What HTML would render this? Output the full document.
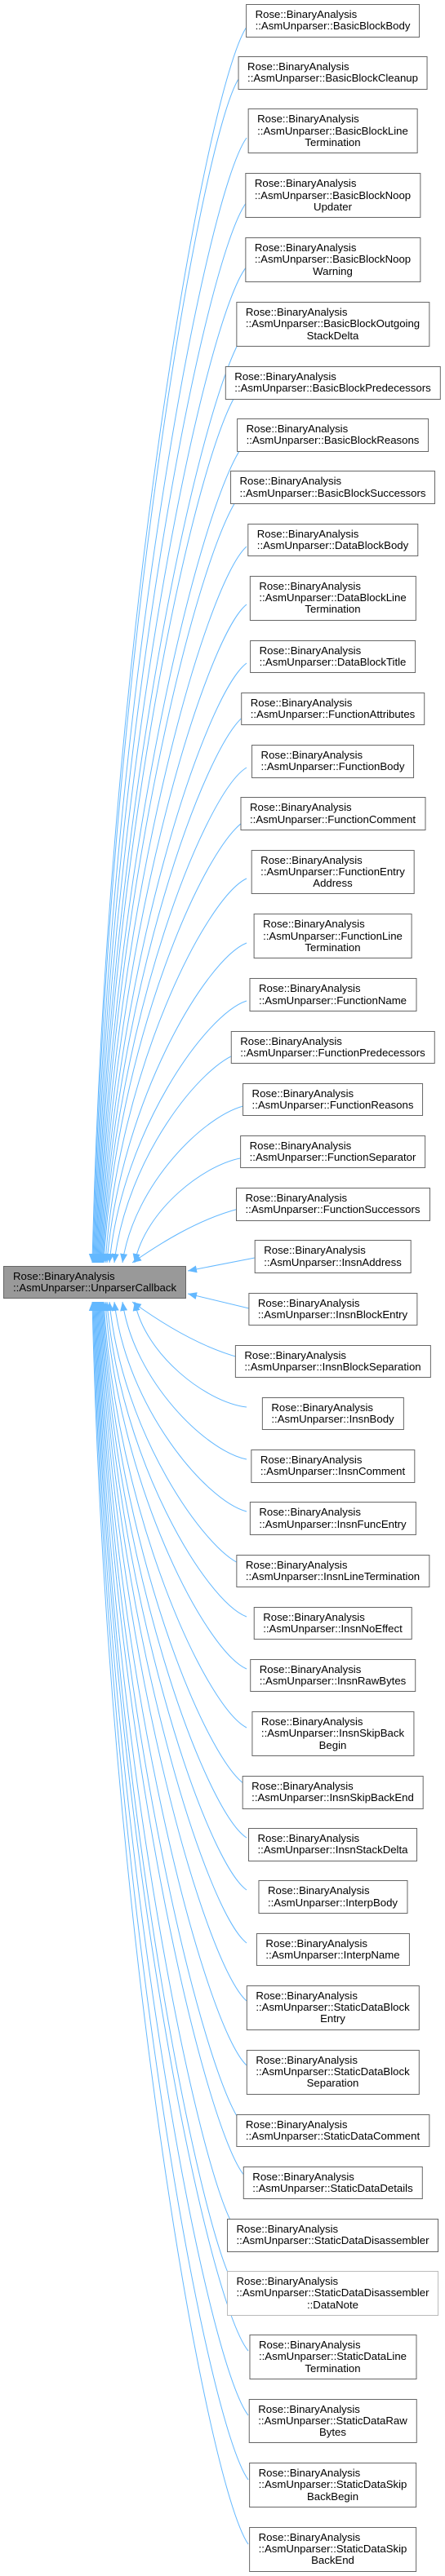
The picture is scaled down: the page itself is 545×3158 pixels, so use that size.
<!DOCTYPE html>
<html><head><meta charset="utf-8"><style>
html,body{margin:0;padding:0;background:#fff;}
body{width:545px;height:3158px;position:relative;overflow:hidden;font-family:"Liberation Sans",Arial,sans-serif;}
.n{position:absolute;left:407.5px;transform:translateX(-50%);white-space:nowrap;font-size:13.2px;line-height:14.3px;padding:5px 11px;border:1px solid #666;background:#fff;color:#000;text-align:left;}
.n .c{text-align:center;}
.lt{border-color:#bbb;}
.root{position:absolute;left:4px;top:1552px;width:200px;height:28px;padding:5px 11px;border:1px solid #666;background:#999;font-size:13.2px;line-height:14.3px;white-space:nowrap;}
svg{position:absolute;left:0;top:0;}
</style></head><body>
<svg width="545" height="3158" viewBox="0 0 545 3158">
<defs><marker id="a" markerUnits="userSpaceOnUse" markerWidth="12" markerHeight="9" refX="11" refY="4.5" orient="auto"><path d="M0,0 L11,4.5 L0,9 z" fill="#63b8ff"/></marker></defs>
<g fill="none" stroke="#63b8ff" stroke-width="1" marker-end="url(#a)">
<path d="M302,33 C252,108.8 130.7,790.5 113,1548"/>
<path d="M292,97 C247,169.6 131.6,822.5 114,1548"/>
<path d="M302,169 C252,238 132.5,858.5 115,1548"/>
<path d="M302,248 C252,313 133.4,898 116,1548"/>
<path d="M302,327 C252,388 134.3,937.5 117,1548"/>
<path d="M302,405 C252,462 135.2,976.5 118,1548"/>
<path d="M294,477 C247,531 136.1,1012.5 119,1548"/>
<path d="M302,541 C252,591 137,1044.5 120,1548"/>
<path d="M296,605 C250,652 137.9,1076.5 121,1548"/>
<path d="M302,670 C252,714 138.8,1109 122,1548"/>
<path d="M302,741 C252,781 139.7,1144.5 123,1548"/>
<path d="M302,813 C252,850 140.6,1180.5 124,1548"/>
<path d="M300,877 C252,911 141.5,1212.5 125,1548"/>
<path d="M302,941 C252,971 142.4,1244.5 126,1548"/>
<path d="M302,1005 C252,1032 143.3,1276.5 127,1548"/>
<path d="M302,1077 C252,1101 145.1,1312.5 129,1548"/>
<path d="M302,1156 C252,1176 146.9,1352 131,1548"/>
<path d="M302,1227 C252,1243 149.6,1387.5 134,1548"/>
<path d="M293,1291 C247,1304 155,1419.5 140,1548"/>
<path d="M302,1355 C252,1365 164,1451.5 150,1548"/>
<path d="M300,1419 C252,1425 177.5,1483.5 165,1548"/>
<path d="M292,1482 C242,1495 195,1525 162,1548"/>
<path d="M312,1542 L230,1558"/>
<path d="M305,1604 L230,1586"/>
<path d="M292,1664 C242,1650 195,1620 162,1596"/>
<path d="M302,1725 C252,1719 177.5,1660.5 165,1596"/>
<path d="M302,1789 C252,1779 164,1692.5 150,1596"/>
<path d="M302,1853 C252,1840 155,1724.5 140,1596"/>
<path d="M296,1918 C252,1902 149.6,1757 134,1596"/>
<path d="M302,1982 C252,1963 146.9,1789 131,1596"/>
<path d="M302,2046 C252,2024 145.1,1821 129,1596"/>
<path d="M302,2118 C252,2092 143.3,1857 127,1596"/>
<path d="M302,2189 C252,2159 142.4,1892.5 126,1596"/>
<path d="M302,2253 C252,2220 141.5,1924.5 125,1596"/>
<path d="M302,2317 C252,2281 140.6,1956.5 124,1596"/>
<path d="M302,2382 C252,2343 139.7,1989 123,1596"/>
<path d="M302,2453 C252,2410 138.8,2024.5 122,1596"/>
<path d="M302,2532 C252,2485 137.9,2064 121,1596"/>
<path d="M297,2604 C252,2554 137,2100 120,1596"/>
<path d="M300,2668 C252,2614 136.1,2132 119,1596"/>
<path d="M288,2732 C247,2675 135.2,2164 118,1596"/>
<path d="M288,2804 C247,2744 134.3,2200 117,1596"/>
<path d="M304,2882 C252,2818 133.4,2239 116,1596"/>
<path d="M304,2961 C252,2893 132.5,2278.5 115,1596"/>
<path d="M304,3040 C252,2968 131.6,2318 114,1596"/>
<path d="M304,3119 C252,3043 130.7,2357.5 113,1596"/>
</g>
</svg>
<div class="root">Rose::BinaryAnalysis<br>::AsmUnparser::UnparserCallback</div>
<div class="n" style="top:5px">Rose::BinaryAnalysis<br>::AsmUnparser::BasicBlockBody</div>
<div class="n" style="top:69.2px">Rose::BinaryAnalysis<br>::AsmUnparser::BasicBlockCleanup</div>
<div class="n" style="top:133.4px">Rose::BinaryAnalysis<br>::AsmUnparser::BasicBlockLine<div class="c">Termination</div></div>
<div class="n" style="top:212.3px">Rose::BinaryAnalysis<br>::AsmUnparser::BasicBlockNoop<div class="c">Updater</div></div>
<div class="n" style="top:291.2px">Rose::BinaryAnalysis<br>::AsmUnparser::BasicBlockNoop<div class="c">Warning</div></div>
<div class="n" style="top:370.1px">Rose::BinaryAnalysis<br>::AsmUnparser::BasicBlockOutgoing<div class="c">StackDelta</div></div>
<div class="n" style="top:449px">Rose::BinaryAnalysis<br>::AsmUnparser::BasicBlockPredecessors</div>
<div class="n" style="top:513.2px">Rose::BinaryAnalysis<br>::AsmUnparser::BasicBlockReasons</div>
<div class="n" style="top:577.4px">Rose::BinaryAnalysis<br>::AsmUnparser::BasicBlockSuccessors</div>
<div class="n" style="top:641.6px">Rose::BinaryAnalysis<br>::AsmUnparser::DataBlockBody</div>
<div class="n" style="top:705.8px">Rose::BinaryAnalysis<br>::AsmUnparser::DataBlockLine<div class="c">Termination</div></div>
<div class="n" style="top:784.7px">Rose::BinaryAnalysis<br>::AsmUnparser::DataBlockTitle</div>
<div class="n" style="top:848.9px">Rose::BinaryAnalysis<br>::AsmUnparser::FunctionAttributes</div>
<div class="n" style="top:913.1px">Rose::BinaryAnalysis<br>::AsmUnparser::FunctionBody</div>
<div class="n" style="top:977.3px">Rose::BinaryAnalysis<br>::AsmUnparser::FunctionComment</div>
<div class="n" style="top:1041.5px">Rose::BinaryAnalysis<br>::AsmUnparser::FunctionEntry<div class="c">Address</div></div>
<div class="n" style="top:1120.4px">Rose::BinaryAnalysis<br>::AsmUnparser::FunctionLine<div class="c">Termination</div></div>
<div class="n" style="top:1199.3px">Rose::BinaryAnalysis<br>::AsmUnparser::FunctionName</div>
<div class="n" style="top:1263.5px">Rose::BinaryAnalysis<br>::AsmUnparser::FunctionPredecessors</div>
<div class="n" style="top:1327.7px">Rose::BinaryAnalysis<br>::AsmUnparser::FunctionReasons</div>
<div class="n" style="top:1391.9px">Rose::BinaryAnalysis<br>::AsmUnparser::FunctionSeparator</div>
<div class="n" style="top:1456.1px">Rose::BinaryAnalysis<br>::AsmUnparser::FunctionSuccessors</div>
<div class="n" style="top:1520.3px">Rose::BinaryAnalysis<br>::AsmUnparser::InsnAddress</div>
<div class="n" style="top:1584.5px">Rose::BinaryAnalysis<br>::AsmUnparser::InsnBlockEntry</div>
<div class="n" style="top:1648.7px">Rose::BinaryAnalysis<br>::AsmUnparser::InsnBlockSeparation</div>
<div class="n" style="top:1712.9px">Rose::BinaryAnalysis<br>::AsmUnparser::InsnBody</div>
<div class="n" style="top:1777.1px">Rose::BinaryAnalysis<br>::AsmUnparser::InsnComment</div>
<div class="n" style="top:1841.3px">Rose::BinaryAnalysis<br>::AsmUnparser::InsnFuncEntry</div>
<div class="n" style="top:1905.5px">Rose::BinaryAnalysis<br>::AsmUnparser::InsnLineTermination</div>
<div class="n" style="top:1969.7px">Rose::BinaryAnalysis<br>::AsmUnparser::InsnNoEffect</div>
<div class="n" style="top:2033.9px">Rose::BinaryAnalysis<br>::AsmUnparser::InsnRawBytes</div>
<div class="n" style="top:2098.1px">Rose::BinaryAnalysis<br>::AsmUnparser::InsnSkipBack<div class="c">Begin</div></div>
<div class="n" style="top:2177px">Rose::BinaryAnalysis<br>::AsmUnparser::InsnSkipBackEnd</div>
<div class="n" style="top:2241.2px">Rose::BinaryAnalysis<br>::AsmUnparser::InsnStackDelta</div>
<div class="n" style="top:2305.4px">Rose::BinaryAnalysis<br>::AsmUnparser::InterpBody</div>
<div class="n" style="top:2369.6px">Rose::BinaryAnalysis<br>::AsmUnparser::InterpName</div>
<div class="n" style="top:2433.8px">Rose::BinaryAnalysis<br>::AsmUnparser::StaticDataBlock<div class="c">Entry</div></div>
<div class="n" style="top:2512.7px">Rose::BinaryAnalysis<br>::AsmUnparser::StaticDataBlock<div class="c">Separation</div></div>
<div class="n" style="top:2591.6px">Rose::BinaryAnalysis<br>::AsmUnparser::StaticDataComment</div>
<div class="n" style="top:2655.8px">Rose::BinaryAnalysis<br>::AsmUnparser::StaticDataDetails</div>
<div class="n" style="top:2720px">Rose::BinaryAnalysis<br>::AsmUnparser::StaticDataDisassembler</div>
<div class="n lt" style="top:2784.2px">Rose::BinaryAnalysis<br>::AsmUnparser::StaticDataDisassembler<div class="c">::DataNote</div></div>
<div class="n" style="top:2862px">Rose::BinaryAnalysis<br>::AsmUnparser::StaticDataLine<div class="c">Termination</div></div>
<div class="n" style="top:2940.5px">Rose::BinaryAnalysis<br>::AsmUnparser::StaticDataRaw<div class="c">Bytes</div></div>
<div class="n" style="top:3019px">Rose::BinaryAnalysis<br>::AsmUnparser::StaticDataSkip<div class="c">BackBegin</div></div>
<div class="n" style="top:3097.8px">Rose::BinaryAnalysis<br>::AsmUnparser::StaticDataSkip<div class="c">BackEnd</div></div>
</body></html>
